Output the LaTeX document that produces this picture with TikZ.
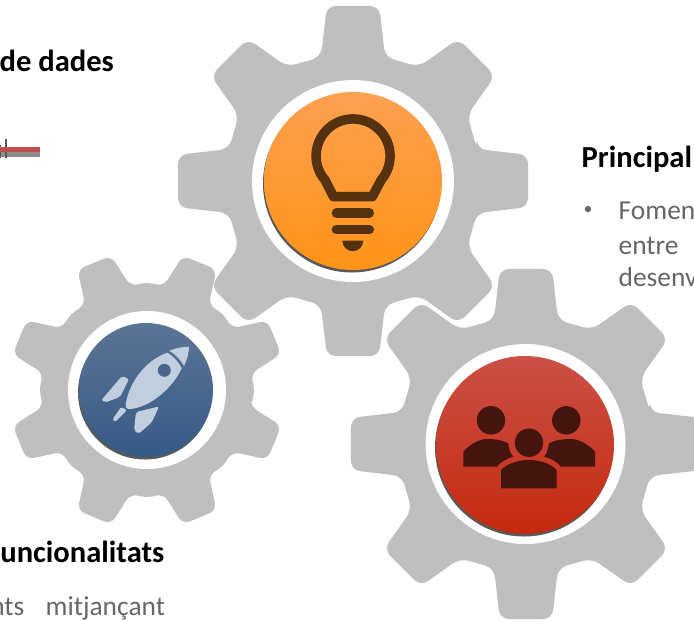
\documentclass[tikz,border=0pt]{standalone}
\usepackage{fontspec}
\setmainfont{Carlito}
\definecolor{gearfill}{HTML}{BFBFBF}
\definecolor{discshadow}{HTML}{595959}
\definecolor{bulbdark}{HTML}{54320F}
\definecolor{rocketfill}{HTML}{C2CEDD}
\definecolor{peopledark}{HTML}{43150E}
\definecolor{bodygray}{HTML}{666666}
\definecolor{linered}{HTML}{C0504D}
\definecolor{linegray}{HTML}{8C8C8C}
\definecolor{orangetop}{HTML}{FDA050}
\definecolor{orangebottom}{HTML}{FF9418}
\definecolor{bluetop}{HTML}{5B7596}
\definecolor{bluebottom}{HTML}{365A87}
\definecolor{bluewindow}{HTML}{49668C}
\definecolor{redtop}{HTML}{CB5046}
\definecolor{redbottom}{HTML}{C42A0E}
\tikzset{
	titletext/.style={anchor=base west, inner sep=0pt, font=\fontsize{17.4pt}{20pt}\selectfont\bfseries, text=black},
	bodytext/.style={anchor=base west, inner sep=0pt, font=\fontsize{15.6pt}{19pt}\selectfont, text=bodygray},
}
% gear with eight teeth, the axis teeth wider at the foot
\newcommand{\biggear}[2]{
	\begin{scope}[shift={(#1,#2)}]
		\fill[gearfill, rounded corners=0.18cm] (-14.5:128)
		\foreach \a in {0,90,180,270} {
			-- (\a-8.5:177) -- (\a+8.5:177) -- (\a+14.5:128) -- (\a+30:132)
			-- (\a+36.5:177) -- (\a+53.5:177) -- (\a+60:132) -- (\a+75.5:128)
		} -- cycle;
	\end{scope}
}
% shadow, then gradient disc
\newcommand{\gradientdisc}[5]{
	\fill[discshadow] (#1-1,#2+2.5) circle (#3);
	\shade[top color=#4, bottom color=#5] (#1,#2) circle (#3);
}
\begin{document}
\begin{tikzpicture}[x=0.02cm,y=-0.02cm,thick]
	\useasboundingbox (0,0) rectangle (694,620);
	\clip (0,0) rectangle (694,620);
	% gears
	\biggear{353}{181}
	\biggear{526}{444}
	\begin{scope}[shift={(147,390)}]
		\fill[gearfill, rounded corners=0.15cm] (22.5-13.5:105)
		\foreach \a in {22.5,67.5,...,337.5} {
			-- (\a-7.5:139) -- (\a+7.5:139) -- (\a+13.5:105) -- (\a+22.5:108) -- (\a+31.5:105)
		} -- cycle;
	\end{scope}
	% white rings
	\fill[white] (353,181) circle (101);
	\fill[white] (525.5,444) circle (100);
	\fill[white] (147,390) circle (79);
	% discs
	\gradientdisc{353}{181}{89}{orangetop}{orangebottom}
	\gradientdisc{525}{445}{89}{redtop}{redbottom}
	\gradientdisc{146}{390}{67}{bluetop}{bluebottom}
	% light bulb
	\draw[bulbdark, line width=0.19cm, line join=round] (333.5,196.7) -- (325,180) arc[start angle=139.4, end angle=400.6, radius=37] -- (372.3,196.7) -- cycle;
	\draw[bulbdark, line width=0.19cm, line cap=round] (336.4,213) -- (369.3,213);
	\draw[bulbdark, line width=0.19cm, line cap=round] (336.4,229.7) -- (369.3,229.7);
	\fill[bulbdark] (342.3,240.7) -- (363.3,240.7) arc[start angle=0, end angle=180, radius=10.5] -- cycle;
	% rocket
	\fill[rocketfill] (169.3,350.7) .. controls (176,348) and (183,346.7) .. (189,346.7) .. controls (189,353) and (187,360) .. (184,366) .. controls (180,359) and (175,354) .. (169.3,350.7) -- cycle;
	\fill[rocketfill] (167.3,352.7) .. controls (146.7,360) and (130,380) .. (125.7,404) .. controls (125.5,407) and (126,409) .. (128.3,409) .. controls (147.3,409) and (171.7,390) .. (181.7,368.3) .. controls (178,361) and (173,356) .. (167.3,352.7) -- cycle;
	\fill[rocketfill, rounded corners=0.04cm] (101.5,400) -- (122,376) -- (129,379) -- (120,397) -- (105,402.5) -- cycle;
	\fill[rocketfill, rounded corners=0.04cm] (159,406.5) -- (152,422) -- (138.5,434) -- (134,430) -- (136,412) -- cycle;
	\fill[rocketfill, rounded corners=0.03cm] (121,407) -- (127,410) -- (115,422) -- (112.5,419.5) -- cycle;
	\fill[bluewindow] (164.3,370.3) circle (6.5);
	% people
	\fill[peopledark] (529,442.7) circle (14.2);
	\fill[peopledark] (491,420.3) circle (14.2);
	\fill[peopledark] (566.3,420.3) circle (14.2);
	\fill[peopledark] (501,488.3) -- (501,470) .. controls (507,464) and (517,460) .. (529,460) .. controls (541,460) and (551,464) .. (556.7,470) -- (556.7,488.3) -- cycle;
	\fill[peopledark] (463.3,466.7) -- (463.3,451.7) .. controls (470,444) and (480,439) .. (487,439) .. controls (495,439) and (502,440) .. (508.3,443.3) .. controls (509,450) and (510,453) .. (513.3,456.7) .. controls (508,458) and (502,461) .. (497.7,465.7) -- (497.7,466.7) -- cycle;
	\fill[peopledark] (595,466.7) -- (595,451.7) .. controls (588,444) and (578,439) .. (571.7,439) .. controls (563,439) and (555,440) .. (549,443.3) .. controls (548,450) and (547,453) .. (544.3,456.7) .. controls (550,458) and (556,461) .. (560,465.7) -- (560,466.7) -- cycle;
	% struck out line
	\fill[linegray] (0,152) rectangle (39.7,156.7);
	\draw[discshadow, line width=0.04cm] (6,139) -- (6,157.7);
	\draw[discshadow, line width=0.04cm] (0,145) -- (0,157.7);
	\fill[linered] (0,147) rectangle (39.7,152.3);
	% texts
	\node[titletext] (dades) at (-1,71) {de dades};
	\node[titletext] (principal) at (581,167.3) {Principal};
	\node[bodytext, font=\fontsize{10pt}{12pt}\selectfont] (bullet) at (583,214.5) {•};
	\node[bodytext] (fomen) at (618,219) {Fomen};
	\node[bodytext] (entre) at (618,254) {entre};
	\node[bodytext] (desenv) at (618,286.7) {desenv};
	\node[titletext, anchor=base east] (funcionalitats) at (165,562.7) {uncionalitats};
	\node[bodytext] (mitjancant) at (45,615) {mitjançant};
	\node[bodytext, anchor=base east] (nts) at (25,615) {nts};
\end{tikzpicture}
\end{document}
